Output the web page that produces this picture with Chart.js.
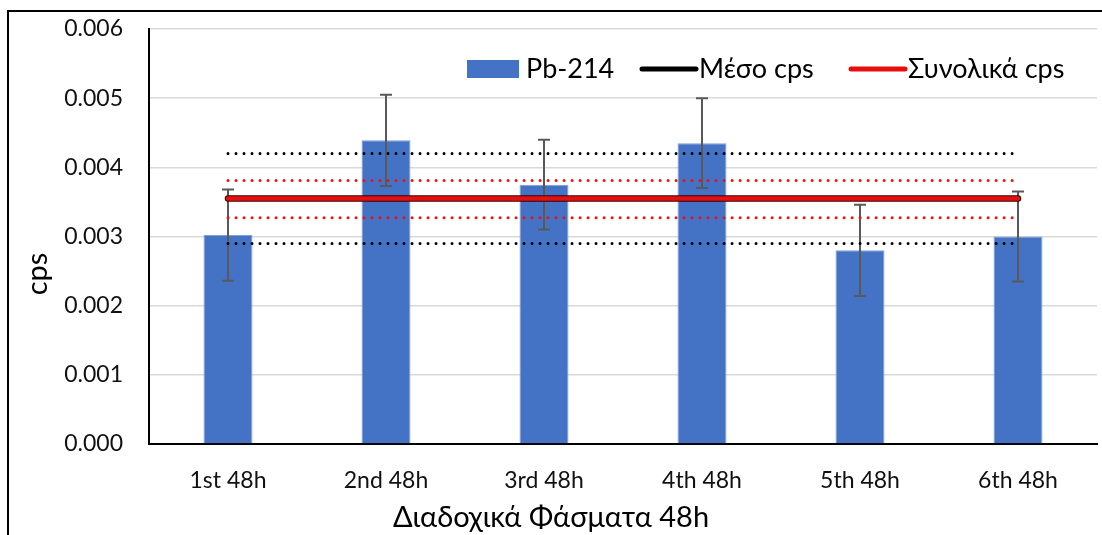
<!DOCTYPE html>
<html>
<head>
<meta charset="utf-8">
<script src="https://cdn.jsdelivr.net/npm/chart.js@4.4.1/dist/chart.umd.min.js"></script>
<style>
  html, body { margin: 0; padding: 0; background: #fff; }
  #wrap { width: 1102px; height: 535px; }
</style>
</head>
<body>
<div id="wrap"><canvas id="c" width="1102" height="535"></canvas></div>
<script>
// Successive 48h spectra: Pb-214 count rate with uncertainties
const categories = ['1st 48h', '2nd 48h', '3rd 48h', '4th 48h', '5th 48h', '6th 48h'];
const pb214 = [0.00302, 0.00439, 0.00375, 0.00435, 0.00280, 0.00300];
const pb214Err = [0.00066, 0.00066, 0.00065, 0.00065, 0.00066, 0.00065];

// Mean cps (black) with its ± band, total cps (red) with its ± band
const meanCps = 0.00355;
const meanBand = [0.00420, 0.00290];
const totalCps = 0.00355;
const totalBand = [0.00381, 0.00327];

const yTicks = [0, 0.001, 0.002, 0.003, 0.004, 0.005, 0.006];

const legendItems = [
  { label: 'Pb-214', kind: 'box', color: '#4472C4' },
  { label: 'Μέσο cps', kind: 'line', color: '#000000' },
  { label: 'Συνολικά cps', kind: 'line', color: '#E50F0F' }
];

const FONT = 'Lato, "Open Sans", "DejaVu Sans", sans-serif';
const flat = v => categories.map(() => v);

const dotted = (color, value) => ({
  type: 'line',
  data: flat(value),
  borderColor: color,
  borderWidth: 3,
  borderDash: [0.001, 8],
  borderCapStyle: 'round',
  pointRadius: 0,
  fill: false,
  order: 3
});

// white page, frame lines, error bars, legend and axis titles
const decorations = {
  id: 'decorations',
  beforeDraw(chart) {
    const ctx = chart.ctx;
    ctx.save();
    ctx.fillStyle = '#fff';
    ctx.fillRect(0, 0, chart.width, chart.height);
    ctx.strokeStyle = '#000';
    ctx.lineWidth = 2;
    ctx.beginPath();
    ctx.moveTo(8, chart.height);
    ctx.lineTo(8, 11);
    ctx.lineTo(chart.width, 11);
    ctx.stroke();
    ctx.restore();
  },
  afterDatasetDraw(chart, args) {
    if (args.index !== 0) return;
    const ctx = chart.ctx;
    const y = chart.scales.y;
    const meta = chart.getDatasetMeta(0);
    ctx.save();
    ctx.strokeStyle = '#595959';
    ctx.lineWidth = 2;
    meta.data.forEach((bar, i) => {
      const top = y.getPixelForValue(pb214[i] + pb214Err[i]);
      const bot = y.getPixelForValue(pb214[i] - pb214Err[i]);
      ctx.beginPath();
      ctx.moveTo(bar.x, top); ctx.lineTo(bar.x, bot);
      ctx.moveTo(bar.x - 6, top); ctx.lineTo(bar.x + 6, top);
      ctx.moveTo(bar.x - 6, bot); ctx.lineTo(bar.x + 6, bot);
      ctx.stroke();
    });
    ctx.restore();
  },
  afterDraw(chart) {
    const ctx = chart.ctx;
    ctx.save();
    // legend
    const ly = 69;
    const slots = [
      { mark: [467, 519], text: 526 },
      { mark: [642, 696], text: 699 },
      { mark: [851, 905], text: 908 }
    ];
    ctx.font = '27px ' + FONT;
    ctx.textBaseline = 'middle';
    ctx.textAlign = 'left';
    legendItems.forEach((it, i) => {
      const s = slots[i];
      if (it.kind === 'box') {
        ctx.fillStyle = it.color;
        ctx.fillRect(s.mark[0], 60, s.mark[1] - s.mark[0], 18);
      } else {
        ctx.strokeStyle = it.color;
        ctx.lineWidth = 5;
        ctx.lineCap = 'round';
        ctx.beginPath();
        ctx.moveTo(s.mark[0], ly); ctx.lineTo(s.mark[1], ly);
        ctx.stroke();
      }
      ctx.fillStyle = '#000';
      ctx.fillText(it.label, s.text, ly);
    });
    // axis titles
    ctx.font = '29px ' + FONT;
    ctx.fillStyle = '#000';
    ctx.textAlign = 'center';
    ctx.textBaseline = 'alphabetic';
    ctx.fillText('Διαδοχικά Φάσματα 48h', 551, 527);
    ctx.translate(47, 274);
    ctx.rotate(-Math.PI / 2);
    ctx.fillText('cps', 0, 0);
    ctx.restore();
  }
};

new Chart(document.getElementById('c'), {
  type: 'bar',
  data: {
    labels: categories,
    datasets: [
      {
        type: 'bar',
        label: 'Pb-214',
        data: pb214,
        backgroundColor: '#4472C4',
        borderColor: '#7F9ED6',
        borderWidth: 1,
        barPercentage: 0.31,
        categoryPercentage: 1,
        order: 10
      },
      dotted('#000000', meanBand[0]),
      dotted('#000000', meanBand[1]),
      dotted('#F01010', totalBand[0]),
      dotted('#F01010', totalBand[1]),
      {
        type: 'line',
        label: 'Μέσο cps',
        data: flat(meanCps),
        borderColor: '#3a0000',
        borderWidth: 6.5,
        borderCapStyle: 'round',
        pointRadius: 0,
        fill: false,
        order: 2
      },
      {
        type: 'line',
        label: 'Συνολικά cps',
        data: flat(totalCps),
        borderColor: '#E50F0F',
        borderWidth: 4.5,
        borderCapStyle: 'round',
        pointRadius: 0,
        fill: false,
        order: 1
      }
    ]
  },
  options: {
    responsive: false,
    animation: false,
    devicePixelRatio: 1,
    layout: { padding: { top: 29, right: 5, left: 0, bottom: 0 } },
    plugins: { legend: { display: false }, tooltip: { enabled: false }, title: { display: false } },
    scales: {
      x: {
        grid: { display: false, drawTicks: false },
        border: { display: true, color: '#000', width: 2 },
        ticks: { font: { family: FONT, size: 23 }, color: '#111', padding: 23 },
        afterFit(scale) { scale.height = 91; }
      },
      y: {
        min: 0,
        max: 0.006,
        afterBuildTicks(scale) { scale.ticks = yTicks.map(v => ({ value: v })); },
        ticks: {
          font: { family: FONT, size: 23 },
          color: '#111',
          padding: 26,
          callback: v => Number(v).toFixed(3)
        },
        grid: { color: '#D9D9D9', lineWidth: 1.5, drawTicks: false },
        border: { display: true, color: '#000', width: 2 },
        afterFit(scale) {
          scale.width = 149;
          scale.paddingTop = 0;
          scale.paddingBottom = 0;
        }
      }
    }
  },
  plugins: [decorations]
});
</script>
</body>
</html>
